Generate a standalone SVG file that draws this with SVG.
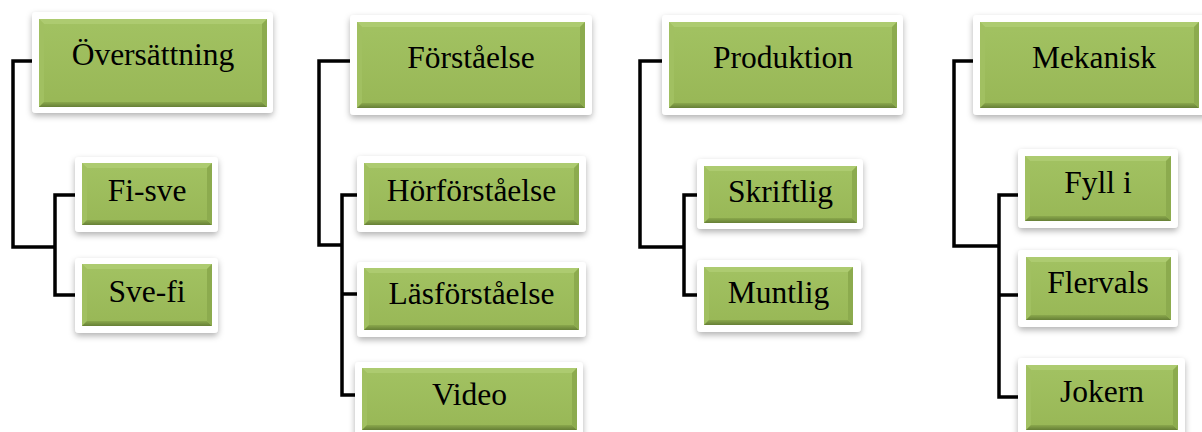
<svg xmlns="http://www.w3.org/2000/svg" width="1202" height="432" viewBox="0 0 1202 432">
  <defs>
    <filter id="shadow" x="-10%" y="-20%" width="120%" height="150%">
      <feDropShadow dx="0" dy="3" stdDeviation="3" flood-color="#000" flood-opacity="0.3"/>
    </filter>
    <linearGradient id="face" x1="0" y1="0" x2="0" y2="1">
      <stop offset="0" stop-color="#a2c262"/>
      <stop offset="1" stop-color="#98b756"/>
    </linearGradient>
    <linearGradient id="bevelBottom" x1="0" y1="0" x2="0" y2="1">
      <stop offset="0" stop-color="#8aa84c"/>
      <stop offset="1" stop-color="#667f36"/>
    </linearGradient>
  </defs>
  <style>
    rect.frame { fill: #ffffff; filter: url(#shadow); }
    rect.face { fill: url(#face); }
    path.bt { fill: #adcb70; }
    path.bl { fill: #a1c061; }
    path.bb { fill: url(#bevelBottom); }
    path.br { fill: #8cab4e; }
    text { font-size: 31.5px; fill: #000; text-anchor: middle; }
    #connectors path { fill: none; stroke: #000; stroke-width: 3.5; stroke-linejoin: miter; stroke-linecap: butt; }
  </style>

  <rect width="1202" height="432" fill="#ffffff"/>

  <!-- tree lines -->
  <g id="connectors">
    <path d="M32,61H13V247H55"/>
    <path d="M83,195H55V295H83"/>
    <path d="M350,61H319V245H342"/>
    <path d="M358,195H342V395H358"/>
    <path d="M342,294H358"/>
    <path d="M662,61H640V247H684"/>
    <path d="M698,195H684V295H698"/>
    <path d="M973,61H954V246H999"/>
    <path d="M1018,195H999V397H1018"/>
    <path d="M999,295H1018"/>
  </g>

  <g font-family="'Liberation Serif', 'DejaVu Serif', serif">
  <g id="oversattning">
    <rect class="frame" x="32" y="12" width="241" height="101" rx="4"/>
    <rect class="face" x="39" y="19" width="228" height="88"/>
    <path class="bt" d="M39,19H267L262,24H44Z"/>
    <path class="bl" d="M39,19L44,24V102L39,107Z"/>
    <path class="bb" d="M39,107H267L262,102H44Z"/>
    <path class="br" d="M267,19L262,24V102L267,107Z"/>
    <text x="153" y="65">Översättning</text>
  </g>

  <g id="fi-sve">
    <rect class="frame" x="75" y="157" width="143" height="75" rx="4"/>
    <rect class="face" x="82" y="163" width="130" height="62"/>
    <path class="bt" d="M82,163H212L207,168H87Z"/>
    <path class="bl" d="M82,163L87,168V220L82,225Z"/>
    <path class="bb" d="M82,225H212L207,220H87Z"/>
    <path class="br" d="M212,163L207,168V220L212,225Z"/>
    <text x="147" y="201">Fi-sve</text>
  </g>

  <g id="sve-fi">
    <rect class="frame" x="75" y="258" width="143" height="75" rx="4"/>
    <rect class="face" x="82" y="264" width="130" height="62"/>
    <path class="bt" d="M82,264H212L207,269H87Z"/>
    <path class="bl" d="M82,264L87,269V321L82,326Z"/>
    <path class="bb" d="M82,326H212L207,321H87Z"/>
    <path class="br" d="M212,264L207,269V321L212,326Z"/>
    <text x="147" y="302">Sve-fi</text>
  </g>

  <g id="forstaelse">
    <rect class="frame" x="350" y="15" width="242" height="100" rx="4"/>
    <rect class="face" x="357" y="22" width="228" height="86"/>
    <path class="bt" d="M357,22H585L580,27H362Z"/>
    <path class="bl" d="M357,22L362,27V103L357,108Z"/>
    <path class="bb" d="M357,108H585L580,103H362Z"/>
    <path class="br" d="M585,22L580,27V103L585,108Z"/>
    <text x="471" y="68">Förståelse</text>
  </g>

  <g id="horforstaelse">
    <rect class="frame" x="357" y="156" width="229" height="76" rx="4"/>
    <rect class="face" x="364" y="163" width="215" height="62"/>
    <path class="bt" d="M364,163H579L574,168H369Z"/>
    <path class="bl" d="M364,163L369,168V220L364,225Z"/>
    <path class="bb" d="M364,225H579L574,220H369Z"/>
    <path class="br" d="M579,163L574,168V220L579,225Z"/>
    <text x="471.5" y="201">Hörförståelse</text>
  </g>

  <g id="lasforstaelse">
    <rect class="frame" x="357" y="262" width="229" height="75" rx="4"/>
    <rect class="face" x="364" y="268" width="215" height="62"/>
    <path class="bt" d="M364,268H579L574,273H369Z"/>
    <path class="bl" d="M364,268L369,273V325L364,330Z"/>
    <path class="bb" d="M364,330H579L574,325H369Z"/>
    <path class="br" d="M579,268L574,273V325L579,330Z"/>
    <text x="471.5" y="304">Läsförståelse</text>
  </g>

  <g id="video">
    <rect class="frame" x="355" y="362" width="228" height="75" rx="4"/>
    <rect class="face" x="362" y="368" width="215" height="62"/>
    <path class="bt" d="M362,368H577L572,373H367Z"/>
    <path class="bl" d="M362,368L367,373V425L362,430Z"/>
    <path class="bb" d="M362,430H577L572,425H367Z"/>
    <path class="br" d="M577,368L572,373V425L577,430Z"/>
    <text x="469.5" y="405">Video</text>
  </g>

  <g id="produktion">
    <rect class="frame" x="662" y="15" width="241" height="100" rx="4"/>
    <rect class="face" x="669" y="22" width="228" height="86"/>
    <path class="bt" d="M669,22H897L892,27H674Z"/>
    <path class="bl" d="M669,22L674,27V103L669,108Z"/>
    <path class="bb" d="M669,108H897L892,103H674Z"/>
    <path class="br" d="M897,22L892,27V103L897,108Z"/>
    <text x="783" y="68">Produktion</text>
  </g>

  <g id="skriftlig">
    <rect class="frame" x="697" y="159" width="166" height="70" rx="4"/>
    <rect class="face" x="704" y="166" width="153" height="57"/>
    <path class="bt" d="M704,166H857L852,171H709Z"/>
    <path class="bl" d="M704,166L709,171V218L704,223Z"/>
    <path class="bb" d="M704,223H857L852,218H709Z"/>
    <path class="br" d="M857,166L852,171V218L857,223Z"/>
    <text x="780.5" y="202">Skriftlig</text>
  </g>

  <g id="muntlig">
    <rect class="frame" x="697" y="260" width="164" height="72" rx="4"/>
    <rect class="face" x="704" y="267" width="149" height="58"/>
    <path class="bt" d="M704,267H853L848,272H709Z"/>
    <path class="bl" d="M704,267L709,272V320L704,325Z"/>
    <path class="bb" d="M704,325H853L848,320H709Z"/>
    <path class="br" d="M853,267L848,272V320L853,325Z"/>
    <text x="778.5" y="303">Muntlig</text>
  </g>

  <g id="mekanisk">
    <rect class="frame" x="973" y="15" width="236" height="100" rx="4"/>
    <rect class="face" x="980" y="22" width="219" height="86"/>
    <path class="bt" d="M980,22H1199L1194,27H985Z"/>
    <path class="bl" d="M980,22L985,27V103L980,108Z"/>
    <path class="bb" d="M980,108H1199L1194,103H985Z"/>
    <path class="br" d="M1199,22L1194,27V103L1199,108Z"/>
    <text x="1094" y="68">Mekanisk</text>
  </g>

  <g id="fyll-i">
    <rect class="frame" x="1018" y="149" width="160" height="79" rx="4"/>
    <rect class="face" x="1025" y="156" width="146" height="65"/>
    <path class="bt" d="M1025,156H1171L1166,161H1030Z"/>
    <path class="bl" d="M1025,156L1030,161V216L1025,221Z"/>
    <path class="bb" d="M1025,221H1171L1166,216H1030Z"/>
    <path class="br" d="M1171,156L1166,161V216L1171,221Z"/>
    <text x="1098" y="193">Fyll i</text>
  </g>

  <g id="flervals">
    <rect class="frame" x="1018" y="250" width="160" height="77" rx="4"/>
    <rect class="face" x="1026" y="257" width="145" height="63"/>
    <path class="bt" d="M1026,257H1171L1166,262H1031Z"/>
    <path class="bl" d="M1026,257L1031,262V315L1026,320Z"/>
    <path class="bb" d="M1026,320H1171L1166,315H1031Z"/>
    <path class="br" d="M1171,257L1166,262V315L1171,320Z"/>
    <text x="1098" y="293">Flervals</text>
  </g>

  <g id="jokern">
    <rect class="frame" x="1018" y="358" width="167" height="79" rx="4"/>
    <rect class="face" x="1026" y="365" width="152" height="65"/>
    <path class="bt" d="M1026,365H1178L1173,370H1031Z"/>
    <path class="bl" d="M1026,365L1031,370V425L1026,430Z"/>
    <path class="bb" d="M1026,430H1178L1173,425H1031Z"/>
    <path class="br" d="M1178,365L1173,370V425L1178,430Z"/>
    <text x="1102" y="402">Jokern</text>
  </g>
  </g>
</svg>
